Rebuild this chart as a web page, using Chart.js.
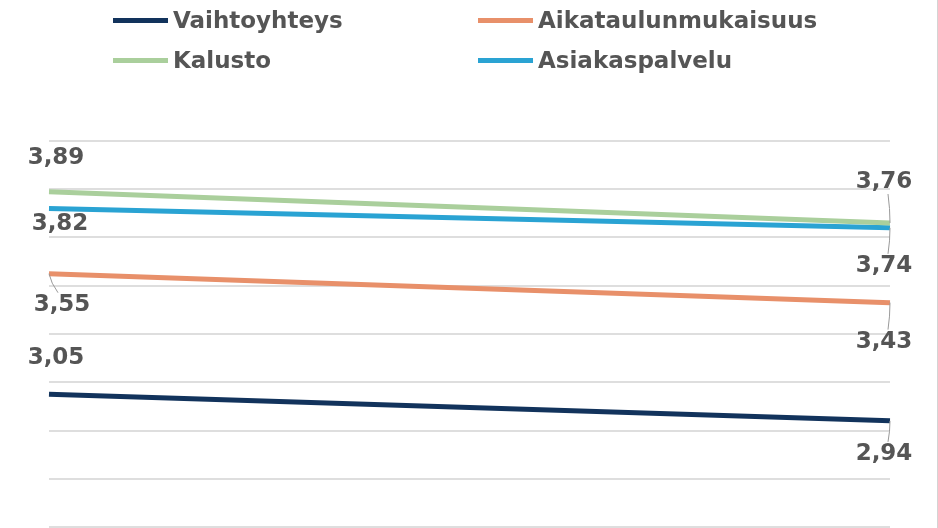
<!DOCTYPE html>
<html>
<head>
<meta charset="utf-8">
<script src="https://cdn.jsdelivr.net/npm/chart.js@4"></script>
<style>
  html, body { margin: 0; padding: 0; background: #fff; }
  #wrap { position: relative; width: 938px; height: 528px; overflow: hidden; }
  #wrap::after { content: ''; position: absolute; right: 0; top: 0; width: 1px; height: 528px; background: #d4d4d4; }
  #chart { position: absolute; left: 0; top: 0; }
  .legend-item {
    position: absolute; display: flex; align-items: center;
    font-family: "DejaVu Sans", sans-serif; font-weight: bold; font-size: 23px; color: #555;
  }
  .legend-item .swatch { width: 55px; height: 5px; margin-right: 5px; }
</style>
</head>
<body>
<div id="wrap">
  <canvas id="chart" width="938" height="528"></canvas>
  <div id="legend"></div>
</div>
<script>
// Data
const periods = ['Edellinen', 'Nykyinen'];
const vaihtoyhteys = [3.05, 2.94];
const aikataulunmukaisuus = [3.55, 3.43];
const kalusto = [3.89, 3.76];
const asiakaspalvelu = [3.82, 3.74];
const yMin = 2.5, yMax = 4.1, yStep = 0.2;

const seriesNames = ['Vaihtoyhteys', 'Aikataulunmukaisuus', 'Kalusto', 'Asiakaspalvelu'];
const seriesData = [vaihtoyhteys, aikataulunmukaisuus, kalusto, asiakaspalvelu];
const seriesColors = ['#12335c', '#e8906a', '#aacf9c', '#2aa3d3'];

// where each value label sits relative to its point (dx, dy to text centre)
const labelPos = [
  [{ dx: 7, dy: -36 }, { dx: -6, dy: 33, leader: true }],
  [{ dx: 13, dy: 31, leader: true }, { dx: -6, dy: 39, leader: true }],
  [{ dx: 7, dy: -34 }, { dx: -6, dy: -41, leader: true }],
  [{ dx: 11, dy: 15 }, { dx: -6, dy: 38, leader: true }]
];

// legend (two columns, two rows)
const legendSpots = [[113, 21], [478, 21], [113, 61], [478, 61]];
const legendEl = document.getElementById('legend');
seriesNames.forEach((name, i) => {
  const item = document.createElement('div');
  item.className = 'legend-item';
  item.style.left = legendSpots[i][0] + 'px';
  item.style.top = (legendSpots[i][1] - 14) + 'px';
  item.innerHTML = '<span class="swatch" style="background:' + seriesColors[i] + '"></span>' + name;
  legendEl.appendChild(item);
});

// draws the value labels next to the end points
const valueLabels = {
  id: 'valueLabels',
  afterDatasetsDraw(chart) {
    const ctx = chart.ctx;
    ctx.save();
    ctx.font = 'bold 23px "DejaVu Sans", sans-serif';
    ctx.fillStyle = '#555';
    ctx.textAlign = 'center';
    ctx.textBaseline = 'middle';
    chart.data.datasets.forEach((ds, di) => {
      const meta = chart.getDatasetMeta(di);
      meta.data.forEach((pt, i) => {
        const p = labelPos[di][i];
        const tx = pt.x + p.dx, ty = pt.y + p.dy;
        if (p.leader) {
          const ey = p.dy > 0 ? ty - 12 : ty + 12;
          ctx.strokeStyle = '#999';
          ctx.lineWidth = 1;
          ctx.beginPath();
          ctx.moveTo(pt.x, pt.y);
          ctx.quadraticCurveTo(pt.x + (p.dx > 0 ? 2 : 0), (pt.y + ey) / 2, tx + (p.dx > 0 ? -4 : 4), ey);
          ctx.stroke();
        }
        ctx.fillText(ds.data[i].toFixed(2).replace('.', ','), tx, ty);
      });
    });
    ctx.restore();
  }
};

new Chart(document.getElementById('chart').getContext('2d'), {
  type: 'line',
  data: {
    labels: periods,
    datasets: seriesData.map((d, i) => ({
      label: seriesNames[i],
      data: d,
      borderColor: seriesColors[i],
      backgroundColor: seriesColors[i],
      borderWidth: 5,
      pointRadius: 0,
      tension: 0
    }))
  },
  options: {
    responsive: false,
    animation: false,
    layout: { padding: { left: 49, right: 48, top: 141, bottom: 1 } },
    plugins: { legend: { display: false }, tooltip: { enabled: false } },
    scales: {
      x: { display: false, offset: false },
      y: {
        min: yMin, max: yMax,
        ticks: { display: false, stepSize: yStep },
        grid: { color: '#dedede', lineWidth: 2, drawTicks: false },
        border: { display: false }
      }
    }
  },
  plugins: [valueLabels]
});
</script>
</body>
</html>
